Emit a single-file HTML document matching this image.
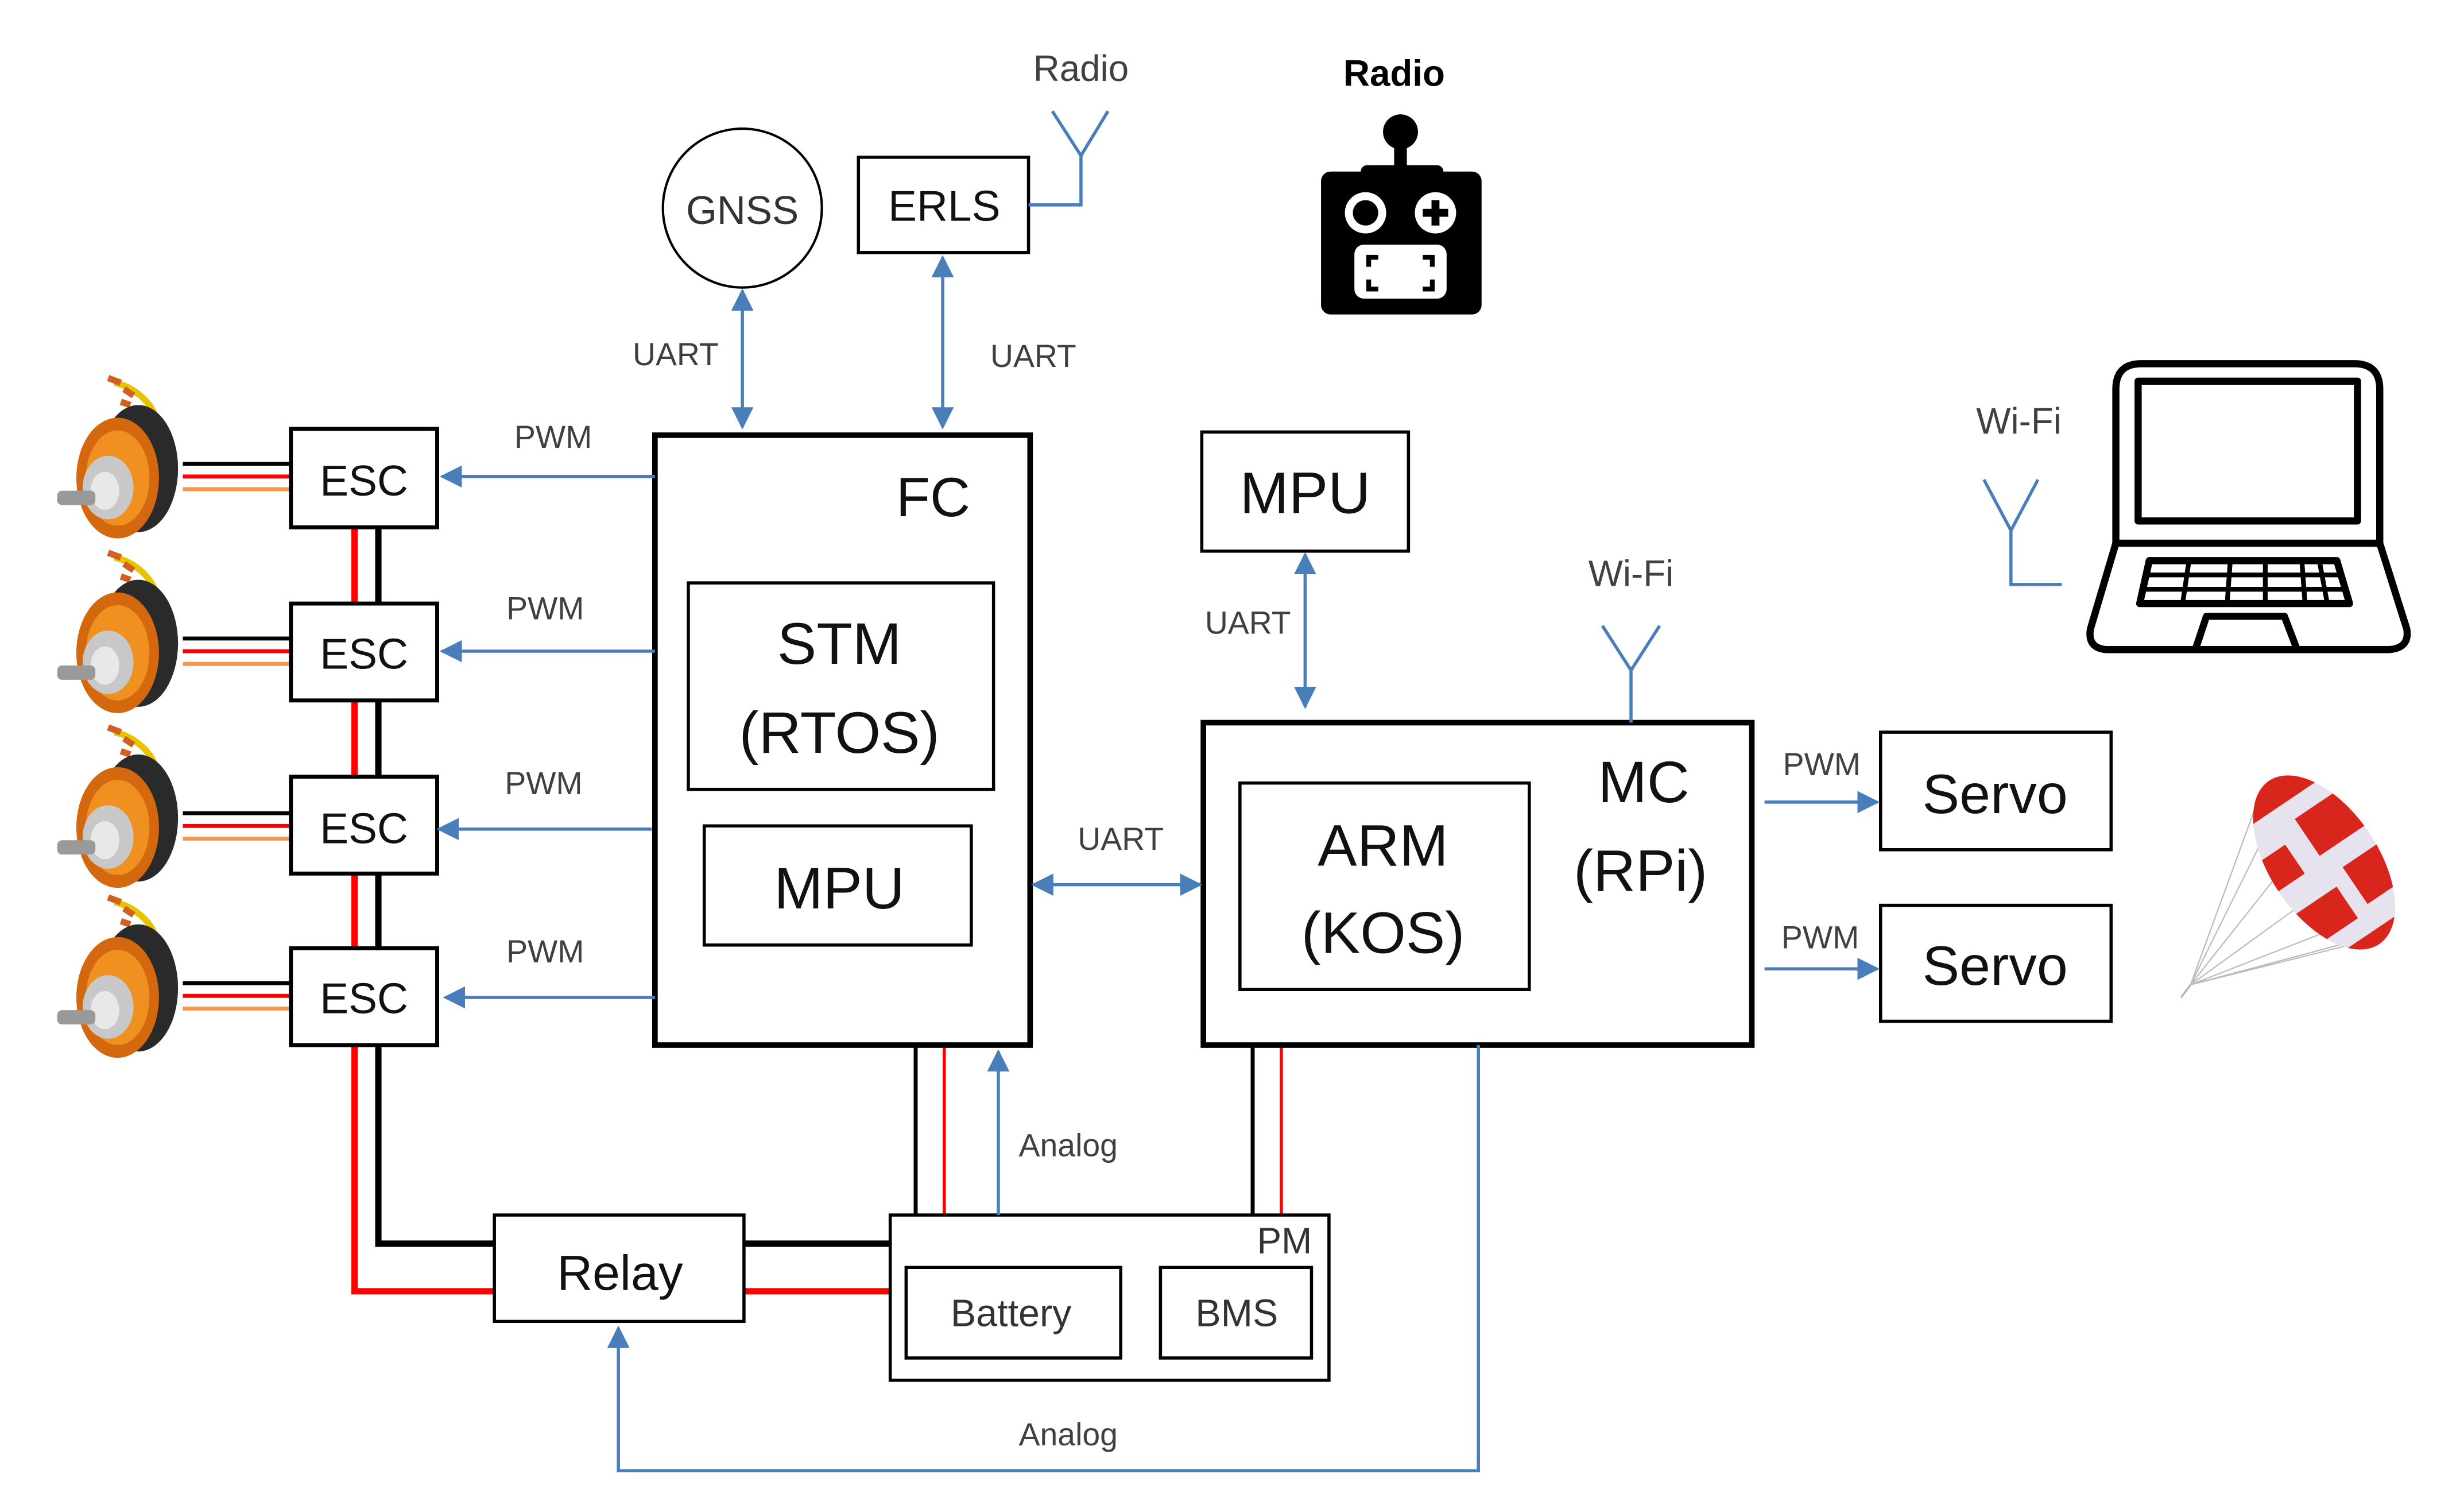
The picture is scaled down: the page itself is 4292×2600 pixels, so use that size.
<!DOCTYPE html>
<html><head><meta charset="utf-8"><style>
html,body{margin:0;padding:0;background:#fff}
svg{display:block}
text{font-family:"Liberation Sans",sans-serif}
.l{fill:#404040;font-size:20px}
.b{fill:#111;font-size:27px}
</style></head><body>
<svg width="4292" height="2600" viewBox="0 0 1550 940" preserveAspectRatio="none" xmlns="http://www.w3.org/2000/svg">
<defs>
<marker id="a" viewBox="0 0 10 10" refX="9" refY="5" markerWidth="7" markerHeight="7" orient="auto-start-reverse"><path d="M0,0L10,5L0,10z" fill="#4a7ebb"/></marker>
<g id="motor">
<path d="M40,-52 C50,-50 62,-42 66,-30 L68,-10" stroke="#e8c400" stroke-width="4" fill="none"/>
<path d="M36,-55 l8,3 M46,-48 l6,4 M44,-40 l6,2" stroke="#d06020" stroke-width="4"/>
<path d="M62,-28 L64,-8" stroke="#222" stroke-width="4"/>
<ellipse cx="55" cy="2" rx="25" ry="40" fill="#2a2a2a"/>
<ellipse cx="42" cy="8" rx="26" ry="38" fill="#d4680f"/>
<ellipse cx="42" cy="8" rx="20" ry="30" fill="#f09020"/>
<ellipse cx="36" cy="14" rx="16" ry="20" fill="#c8c8c8"/>
<ellipse cx="34" cy="16" rx="9" ry="12" fill="#e8e8e8"/>
<rect x="4" y="16" width="24" height="9" rx="3" fill="#999"/>
</g>
</defs>

<use href="#motor" x="32" y="293"/>
<use href="#motor" x="32" y="403"/>
<use href="#motor" x="32" y="513"/>
<use href="#motor" x="32" y="620"/>

<g stroke-width="2.5">
<g id="w1"><line x1="115" y1="292" x2="183" y2="292" stroke="#000"/><line x1="115" y1="300" x2="183" y2="300" stroke="#f00"/><line x1="115" y1="308" x2="183" y2="308" stroke="#f79646"/></g>
<use href="#w1" y="110"/><use href="#w1" y="220"/><use href="#w1" y="327"/>
</g>

<path d="M223,332V813H311" stroke="#f00" stroke-width="4" fill="none"/>
<path d="M238,332V783H311" stroke="#000" stroke-width="4" fill="none"/>
<line x1="468" y1="783" x2="560" y2="783" stroke="#000" stroke-width="4"/>
<line x1="468" y1="813" x2="560" y2="813" stroke="#f00" stroke-width="4"/>
<line x1="576" y1="658" x2="576" y2="765" stroke="#000" stroke-width="2.5"/>
<line x1="594" y1="658" x2="594" y2="765" stroke="#f00" stroke-width="2"/>
<line x1="788" y1="658" x2="788" y2="765" stroke="#000" stroke-width="2.5"/>
<line x1="806" y1="658" x2="806" y2="765" stroke="#f00" stroke-width="2"/>

<g fill="#fff" stroke="#000" stroke-width="2.5">
<rect x="183" y="270" width="92" height="62"/>
<rect x="183" y="380" width="92" height="61"/>
<rect x="183" y="489" width="92" height="61"/>
<rect x="183" y="597" width="92" height="61"/>
<rect x="412" y="274" width="236" height="384" stroke-width="3.5"/>
<rect x="433" y="367" width="192" height="130" stroke-width="2"/>
<rect x="443" y="520" width="168" height="75" stroke-width="2"/>
<rect x="757" y="455" width="345" height="203" stroke-width="3.5"/>
<rect x="780" y="493" width="182" height="130" stroke-width="2"/>
<rect x="756" y="272" width="130" height="75" stroke-width="2"/>
<rect x="540" y="99" width="107" height="60" stroke-width="2"/>
<circle cx="467" cy="131" r="50" stroke-width="1.5"/>
<rect x="1183" y="461" width="145" height="74" stroke-width="2"/>
<rect x="1183" y="570" width="145" height="73" stroke-width="2"/>
<rect x="311" y="765" width="157" height="67" stroke-width="2"/>
<rect x="560" y="765" width="276" height="104" stroke-width="2"/>
<rect x="570" y="798" width="135" height="57" stroke-width="2"/>
<rect x="730" y="798" width="95" height="57" stroke-width="2"/>
</g>

<g stroke="#4a7ebb" stroke-width="2" fill="none">
<line x1="412" y1="300" x2="278" y2="300" marker-end="url(#a)"/>
<line x1="412" y1="410" x2="278" y2="410" marker-end="url(#a)"/>
<line x1="410" y1="522" x2="276" y2="522" marker-end="url(#a)"/>
<line x1="412" y1="628" x2="280" y2="628" marker-end="url(#a)"/>
<line x1="467" y1="183" x2="467" y2="269" marker-start="url(#a)" marker-end="url(#a)"/>
<line x1="593" y1="162" x2="593" y2="269" marker-start="url(#a)" marker-end="url(#a)"/>
<line x1="821" y1="349" x2="821" y2="445" marker-start="url(#a)" marker-end="url(#a)"/>
<line x1="650" y1="557" x2="755" y2="557" marker-start="url(#a)" marker-end="url(#a)"/>
<line x1="628" y1="765" x2="628" y2="662" marker-end="url(#a)"/>
<line x1="1110" y1="505" x2="1181" y2="505" marker-end="url(#a)"/>
<line x1="1110" y1="610" x2="1181" y2="610" marker-end="url(#a)"/>
<path d="M930,658V926H389V836" marker-end="url(#a)"/>
<path d="M647,129H680V98M662,70L680,98L697,70"/>
<path d="M1026,455V422M1008,394L1026,422L1044,394"/>
<path d="M1297,368H1265V334M1248,302L1265,334L1282,302"/>
</g>

<g text-anchor="middle">
<text x="467" y="141" font-size="25" fill="#333">GNSS</text>
<text x="594" y="139" class="b">ERLS</text>
<text x="229" y="312" class="b">ESC</text>
<text x="229" y="421" class="b">ESC</text>
<text x="229" y="531" class="b">ESC</text>
<text x="229" y="638" class="b">ESC</text>
<text x="587" y="325" font-size="35" fill="#111">FC</text>
<text x="528" y="418" font-size="37" fill="#111">STM</text>
<text x="528" y="474" font-size="37" fill="#111">(RTOS)</text>
<text x="528" y="572" font-size="37" fill="#111">MPU</text>
<text x="821" y="323" font-size="37" fill="#111">MPU</text>
<text x="870" y="545" font-size="37" fill="#111">ARM</text>
<text x="870" y="600" font-size="37" fill="#111">(KOS)</text>
<text x="1034" y="505" font-size="37" fill="#111">MC</text>
<text x="1032" y="561" font-size="37" fill="#111">(RPi)</text>
<text x="1255" y="512" font-size="35" fill="#111">Servo</text>
<text x="1255" y="620" font-size="35" fill="#111">Servo</text>
<text x="390" y="812" font-size="31" fill="#111">Relay</text>
<text x="808" y="789" font-size="23" fill="#333">PM</text>
<text x="636" y="835" font-size="24" fill="#333">Battery</text>
<text x="778" y="835" font-size="24" fill="#333">BMS</text>
<text x="425" y="230" class="l">UART</text>
<text x="650" y="231" class="l">UART</text>
<text x="785" y="399" class="l">UART</text>
<text x="705" y="535" class="l">UART</text>
<text x="348" y="282" class="l">PWM</text>
<text x="343" y="390" class="l">PWM</text>
<text x="342" y="500" class="l">PWM</text>
<text x="343" y="606" class="l">PWM</text>
<text x="1146" y="488" class="l">PWM</text>
<text x="1145" y="597" class="l">PWM</text>
<text x="672" y="728" class="l">Analog</text>
<text x="672" y="910" class="l">Analog</text>
<text x="680" y="51" font-size="23" fill="#404040">Radio</text>
<text x="877" y="54" font-size="23" fill="#000" font-weight="bold">Radio</text>
<text x="1026" y="369" font-size="23" fill="#404040">Wi-Fi</text>
<text x="1270" y="273" font-size="23" fill="#404040">Wi-Fi</text>
</g>

<circle cx="881" cy="83" r="11" fill="#000"/>
<rect x="877" y="88" width="8" height="22" fill="#000"/>
<rect x="856" y="104" width="52" height="12" rx="4" fill="#000"/>
<rect x="831" y="108" width="101" height="90" rx="6" fill="#000"/>
<circle cx="859" cy="134" r="13" fill="#fff"/><circle cx="859" cy="134" r="8" fill="#000"/>
<circle cx="903" cy="134" r="13" fill="#fff"/>
<path d="M903,126V142M895,134H911" stroke="#000" stroke-width="5"/>
<rect x="852" y="154" width="58" height="34" rx="6" fill="#fff"/>
<path d="M861,168V162H867M895,162H901V168M861,176V182H867M895,182H901V176" stroke="#000" stroke-width="3" fill="none"/>

<g stroke="#000" stroke-width="4.5" fill="none" stroke-linejoin="round">
<path d="M1331,342V245Q1331,229 1347,229H1481Q1497,229 1497,245V342"/>
<rect x="1345" y="240" width="138" height="88"/>
<path d="M1331,342H1497L1514,396Q1516,408 1503,409H1325Q1313,408 1315,396Z"/>
<path d="M1352,353H1470L1478,380H1346Z"/>
<path d="M1349,362H1473M1347,371H1476M1377,353L1373,380M1403,353L1401,380M1425,353V380M1448,353L1450,380M1459,353L1464,380" stroke-width="3"/>
<path d="M1381,409L1388,388H1437L1445,409"/>
</g>

<g stroke="#bbb" stroke-width="0.8">
<path d="M1378,620L1420,505M1378,620L1425,525M1378,620L1435,548M1378,620L1447,570M1378,620L1460,588M1378,620L1475,594M1378,620L1490,592"/>
</g>
<line x1="1378" y1="620" x2="1372" y2="628" stroke="#c99" stroke-width="1"/>
<defs><clipPath id="pc"><ellipse cx="1462" cy="543" rx="34" ry="62" transform="rotate(-34 1462 543)"/></clipPath></defs>
<g clip-path="url(#pc)">
<rect x="1400" y="470" width="130" height="150" fill="#e6e2ee"/>
<g transform="rotate(-34 1462 543)" fill="#d9261c">
<rect x="1420" y="478" width="90" height="20"/>
<rect x="1420" y="520" width="28" height="22"/>
<rect x="1462" y="510" width="40" height="28"/>
<rect x="1420" y="560" width="40" height="24"/>
<rect x="1470" y="552" width="40" height="28"/>
<rect x="1420" y="596" width="90" height="14"/>
</g>
</g>
</svg>
</body></html>
